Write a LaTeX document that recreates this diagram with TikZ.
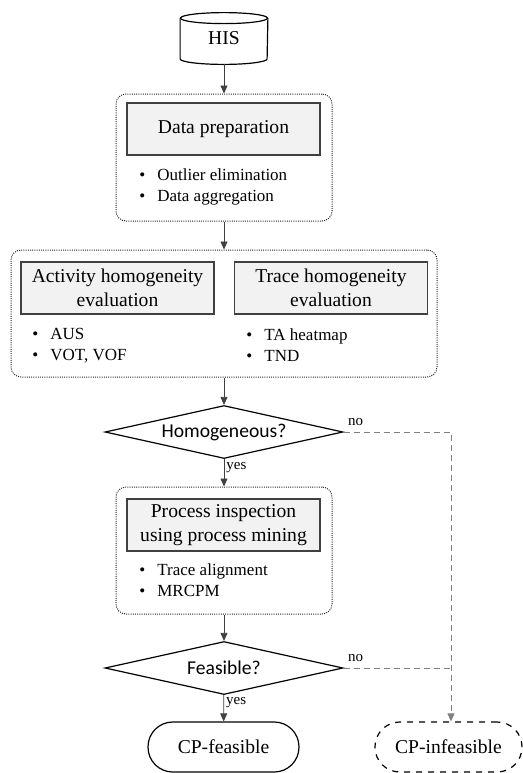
\documentclass[tikz,border=0pt]{standalone}
\usepackage{fontspec}
\setmainfont{Liberation Serif}
\newfontfamily\calib{Carlito}
\usetikzlibrary{shapes.geometric,arrows.meta}
\definecolor{boxgray}{gray}{0.95}
\definecolor{linegray}{gray}{0.25}
\definecolor{dashgray}{gray}{0.5}
\newcommand{\bul}{\makebox[9pt][l]{\textbullet}}

\begin{document}
\begin{tikzpicture}[x=0.5pt,y=-0.5pt,
	outer/.style={draw=black!85,dash pattern=on 0.5pt off 0.6pt,line width=0.5pt,rounded corners=5pt,minimum width=108pt,minimum height=63.5pt},
	graybox/.style={draw=linegray,fill=boxgray,semithick,minimum width=96.5pt,minimum height=26pt,align=center,inner sep=1pt,font=\fontsize{9.8}{12}\selectfont},
	items/.style={anchor=west,align=left,inner sep=0pt,font=\fontsize{8.5}{10.5}\selectfont},
	decision/.style={diamond,draw=black,semithick,aspect=4.49,minimum width=119pt,minimum height=26.5pt,inner sep=0pt,font=\calib\fontsize{9.8}{12}\selectfont},
	endbox/.style={draw=black,semithick,rounded corners=12.4pt,minimum width=75.5pt,minimum height=25pt,font=\fontsize{9.8}{12}\selectfont},
	arr/.style={draw=linegray,->,>={Triangle[length=4pt,width=3.5pt]}},
	noarr/.style={draw=dashgray,densely dashed},
	lbl/.style={font=\fontsize{7.5}{9}\selectfont,inner sep=1pt}]
	\useasboundingbox (0,0) rectangle (523,773);
	
	%database
	\node[minimum width=43.5pt,minimum height=20pt,inner sep=0pt,font=\fontsize{9.8}{12}\selectfont] (his) at (224,38.5) {HIS};
		\draw[semithick] (his.north) ellipse [x radius=21.75pt, y radius=2.75pt];
		\draw[semithick] (his.north west) -- (his.south west) arc[start angle=180,end angle=360,x radius=21.75pt,y radius=2.75pt] -- (his.north east);
		\coordinate (hisbottom) at ([yshift=-2.75pt]his.south);
	
	%step 1
	\node[outer] (box1) at (224,157.5) {};
		\node[graybox] (prep) at (223.5,129) {Data preparation};
		\node[items] (prepitems) at (139,186.5) {\bul Outlier elimination\\ \bul Data aggregation};
	
	%step 2
	\node[outer,minimum width=213pt] (box2) at (224,313.5) {};
		\node[graybox] (act) at (117.5,288) {Activity homogeneity\\ evaluation};
		\node[graybox] (trace) at (331,288) {Trace homogeneity\\ evaluation};
		\node[items] (actitems) at (32,345.5) {\bul AUS\\ \bul VOT, VOF};
		\node[items] (traceitems) at (246,345.5) {\bul TA heatmap\\ \bul TND};
	
	\node[decision] (homog) at (224,432) {Homogeneous?};
	
	%step 3
	\node[outer] (box3) at (224,550.5) {};
		\node[graybox] (insp) at (223.5,525) {Process inspection\\ using process mining};
		\node[items] (inspitems) at (139,580.5) {\bul Trace alignment\\ \bul MRCPM};
	
	\node[decision] (feas) at (224,668) {Feasible?};
	
	%results
	\node[endbox] (cpfeas) at (223.5,747) {CP-feasible};
	\node[endbox,dashed,minimum width=73.5pt] (cpinfeas) at (448.5,747) {CP-infeasible};
	\coordinate (turn) at (451,432);
	
	%arrows
	\draw[arr] (hisbottom) -- (box1);
	\draw[arr] (box1) -- (box2);
	\draw[arr] (box2) -- (homog);
	\draw[arr] (homog) -- node[lbl,right,pos=0.3] {yes} (box3);
	\draw[arr] (box3) -- (feas);
	\draw[arr] (feas) -- node[lbl,right,pos=0.3] {yes} (cpfeas);
	%no branches
	\draw[noarr,->,>={Triangle[length=4pt,width=3.5pt]}] (homog.east) -- node[lbl,anchor=south west,pos=0,xshift=1pt,yshift=2pt] {no} (turn) -- (turn |- cpinfeas.north);
	\draw[noarr] (feas.east) -- node[lbl,anchor=south west,pos=0,xshift=1pt,yshift=2pt] {no} (turn |- feas.east);
\end{tikzpicture}
\end{document}
